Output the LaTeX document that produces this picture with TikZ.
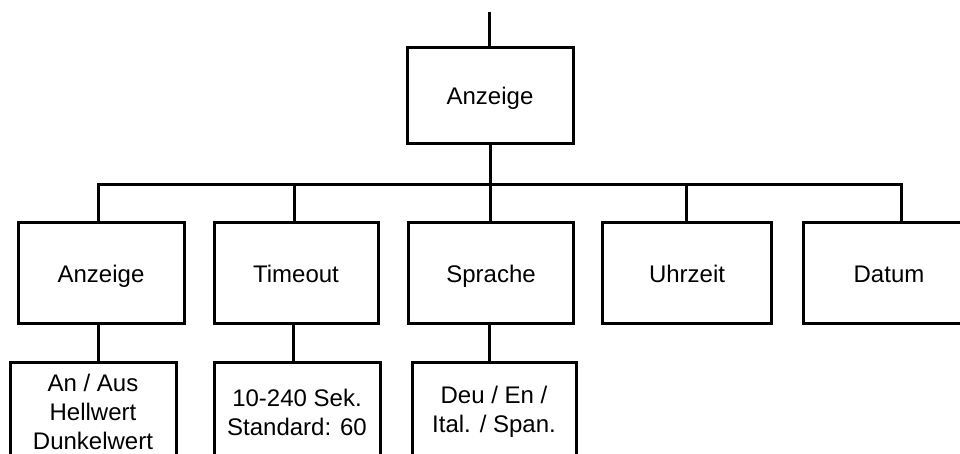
\documentclass[tikz,border=0pt]{standalone}
\usepackage{fontspec}
\setmainfont{Liberation Sans}
\begin{document}
\begin{tikzpicture}[x=1pt,y=-1pt,
  box/.style={draw, line width=3pt, inner sep=0pt, align=center,
    font=\fontsize{24}{29}\selectfont, minimum height=100pt},
  onebox/.style={box, text height=18pt, text depth=0pt},
  conn/.style={line width=3pt}]
\clip (0,0) rectangle (960,454);
\fill[white] (0,0) rectangle (960,454);
% top
\coordinate (topin) at (489,12);
\node[onebox, minimum width=166pt, minimum height=96pt] (top) at (490,96) {Anzeige};
% row 2
\node[onebox, minimum width=166pt] (a1) at (101,273) {Anzeige};
\node[onebox, minimum width=164pt] (a2) at (296,273) {Timeout};
\node[onebox, minimum width=165pt] (a3) at (491,273) {Sprache};
\node[onebox, minimum width=169pt] (a4) at (687,273) {Uhrzeit};
\node[onebox, minimum width=172pt] (a5) at (889,273) {Datum};
% row 3
\node[box, minimum width=166pt] (c1) at (93,412) {An / Aus\\Hellwert\\Dunkelwert};
\node[box, minimum width=166pt] (c2) at (297,412) {10-240 Sek.\\Standard: 60};
\node[box, minimum width=164pt] (c3) at (494,412) {Deu / En /\\Ital. / Span.};
% bus coordinates
\coordinate (bc) at (490,185);
\coordinate (b1) at (98,185);
\coordinate (b2) at (294,185);
\coordinate (b3) at (490,185);
\coordinate (b4) at (686,185);
\coordinate (b5) at (901,185);
% connectors
\draw[conn] (topin) -- (topin |- top.north);
\draw[conn] (top.south -| bc) -- (bc);
\draw[conn, line join=miter] (b1 |- a1.north) -- (b1) -- (b5) -- (b5 |- a5.north);
\draw[conn] (b2) -- (b2 |- a2.north);
\draw[conn] (b3) -- (b3 |- a3.north);
\draw[conn] (b4) -- (b4 |- a4.north);
\draw[conn] (b1 |- a1.south) -- (b1 |- c1.north);
\draw[conn] (a2.south -| 293,0) -- (c2.north -| 293,0);
\draw[conn] (a3.south -| 489,0) -- (c3.north -| 489,0);
\end{tikzpicture}
\end{document}
